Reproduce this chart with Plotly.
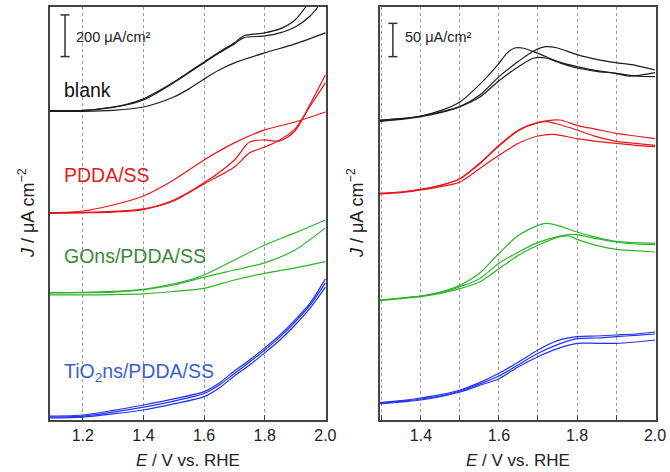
import plotly.graph_objects as go

# ---------------- data (current density incl. vertical offsets, µA cm^-2) ----------------
# Left panel
E_blank_a = [1.09,1.2,1.3,1.35,1.4,1.45,1.5,1.55,1.6,1.65,1.7,1.73,1.8,1.85,1.9,1.935]
J_blank_a = [1485,1486,1502,1517,1541,1579,1622,1670,1718,1766,1810,1843,1858,1877,1920,1982]
E_blank_b = [1.09,1.2,1.3,1.35,1.4,1.45,1.5,1.55,1.6,1.65,1.7,1.73,1.8,1.85,1.9,1.95,1.975]
J_blank_b = [1483,1485,1500,1514,1536,1574,1618,1666,1714,1762,1805,1834,1843,1858,1886,1939,1982]
E_blank_c = [1.09,1.2,1.3,1.4,1.5,1.55,1.6,1.65,1.7,1.8,1.9,2.0]
J_blank_c = [1481,1481,1486,1502,1550,1589,1637,1680,1714,1762,1805,1858]

E_pdda_a = [1.09,1.2,1.3,1.4,1.5,1.6,1.7,1.8,1.9,2.0]
J_pdda_a = [995,1003,1032,1075,1152,1248,1330,1392,1430,1478]
E_pdda_b = [1.09,1.2,1.3,1.4,1.5,1.6,1.7,1.75,1.8,1.85,1.9,1.95,2.0]
J_pdda_b = [994,996,1001,1013,1056,1138,1248,1334,1344,1339,1387,1517,1656]
J_pdda_c = [991,994,998,1010,1051,1133,1214,1282,1310,1344,1397,1507,1618]

E_gons = [1.09,1.2,1.3,1.4,1.5,1.6,1.7,1.8,1.9,2.0]
J_gons_a = [611,612,617,627,653,696,768,840,898,960]
J_gons_b = [610,611,614,626,648,686,720,754,816,922]
J_gons_c = [600,600,602,605,617,632,672,704,730,760]

E_tio2 = [1.09,1.2,1.3,1.4,1.5,1.6,1.65,1.7,1.75,1.8,1.85,1.9,1.95,2.0]
J_tio2_a = [19,24,46,72,101,136,178,235,288,346,408,480,562,677]
J_tio2_b = [14,19,38,62,91,127,168,223,278,336,398,470,552,658]
J_tio2_c = [10,14,29,48,77,112,154,211,264,322,384,456,538,638]

# Right panel
E_r_blank_a = [1.295,1.35,1.4,1.45,1.5,1.55,1.6,1.62,1.64,1.66,1.7,1.75,1.8,1.85,1.9,1.95,2.0]
J_r_blank_a = [450,452,456,464,477,503,535,550,558,558,550,538,530,524,520,516,515]
E_r_blank_b = [1.295,1.35,1.4,1.45,1.5,1.55,1.6,1.65,1.69,1.72,1.75,1.8,1.85,1.9,1.95,2.0]
J_r_blank_b = [449,452,456,462,470,487,515,538,554,560,558,548,541,536,532,525]
E_r_blank_c = [1.295,1.35,1.4,1.45,1.5,1.55,1.6,1.65,1.69,1.72,1.75,1.8,1.85,1.9,1.93,1.96,2.0]
J_r_blank_c = [448,451,455,461,470,484,509,530,543,543,537,528,523,520,516,517,521]

E_r_pdda_a = [1.295,1.35,1.4,1.45,1.5,1.55,1.6,1.65,1.7,1.722,1.75,1.8,1.85,1.9,1.95,2.0]
J_r_pdda_a = [340,342,346,352,362,385,412,435,446,447.5,444,435,425,418,415,412]
E_r_pdda_b = [1.295,1.35,1.4,1.45,1.5,1.55,1.6,1.65,1.7,1.756,1.8,1.85,1.9,1.95,2.0]
J_r_pdda_b = [340,342,346,352,362,384,411,434,446,450,442,436,430,426,422]
E_r_pdda_c = [1.295,1.35,1.4,1.45,1.5,1.55,1.6,1.65,1.7,1.74,1.8,1.85,1.9,1.95,2.0]
J_r_pdda_c = [339,341,345,350,357,377,397,415,426,428.5,422,418,415,412,410]

E_r_gons_a = [1.295,1.35,1.4,1.45,1.5,1.55,1.6,1.65,1.7,1.722,1.75,1.8,1.85,1.9,1.95,2.0]
J_r_gons_a = [180,183,186,192,202,220,250,277,292,295,292,282,274,268,266,265]
E_r_gons = [1.295,1.35,1.4,1.45,1.5,1.55,1.6,1.65,1.7,1.75,1.78,1.8,1.85,1.9,1.95,2.0]
J_r_gons_b = [180,183,186,191,200,212,235,252,266,275,278,278,272,267,264,263]
J_r_gons_c = [179,182,185,190,197,207,227,247,262,274,276,271,262,256,254,252]

E_r_tio2 = [1.295,1.35,1.4,1.45,1.5,1.55,1.6,1.65,1.7,1.75,1.8,1.85,1.9,1.95,2.0]
J_r_tio2_a = [26,29,33,38,45,56,70,87,105,119,125,126,127.5,129,132]
J_r_tio2_b = [25,28,31.5,36,43.5,54,66,83,100,113,122,123,125,127,129]
J_r_tio2_c = [24,27,30,35,42,52,62,80,95,107,115,115,115,117,120]

labels = ["blank", "PDDA/SS", "GOns/PDDA/SS", "TiO<sub>2</sub>ns/PDDA/SS"]
label_y = [1584, 1176, 787, 226]
label_colors = ["#111111", "#e01b1b", "#3a8a3a", "#3a5fd0"]

scale_left = 200      # µA cm^-2
scale_right = 50      # µA cm^-2

# ---------------- styles ----------------
C_BLACK = "#1c1c1c"
C_RED = "#e8161c"
C_GREEN = "#2cb52c"
C_BLUE = "#2233ee"
FONT = "Arial, Liberation Sans, sans-serif"

fig = go.Figure()

def add(x, y, color, xa="x", ya="y"):
    fig.add_trace(go.Scatter(x=x, y=y, mode="lines", xaxis=xa, yaxis=ya,
                             line=dict(color=color, width=1.2, shape="spline", smoothing=0.8),
                             showlegend=False, hoverinfo="skip"))

add(E_blank_a, J_blank_a, C_BLACK); add(E_blank_b, J_blank_b, C_BLACK); add(E_blank_c, J_blank_c, C_BLACK)
add(E_pdda_a, J_pdda_a, C_RED); add(E_pdda_b, J_pdda_b, C_RED); add(E_pdda_b, J_pdda_c, C_RED)
add(E_gons, J_gons_a, C_GREEN); add(E_gons, J_gons_b, C_GREEN); add(E_gons, J_gons_c, C_GREEN)
add(E_tio2, J_tio2_a, C_BLUE); add(E_tio2, J_tio2_b, C_BLUE); add(E_tio2, J_tio2_c, C_BLUE)

add(E_r_blank_a, J_r_blank_a, C_BLACK, "x2", "y2"); add(E_r_blank_b, J_r_blank_b, C_BLACK, "x2", "y2")
add(E_r_blank_c, J_r_blank_c, C_BLACK, "x2", "y2")
add(E_r_pdda_a, J_r_pdda_a, C_RED, "x2", "y2"); add(E_r_pdda_b, J_r_pdda_b, C_RED, "x2", "y2")
add(E_r_pdda_c, J_r_pdda_c, C_RED, "x2", "y2")
add(E_r_gons_a, J_r_gons_a, C_GREEN, "x2", "y2"); add(E_r_gons, J_r_gons_b, C_GREEN, "x2", "y2")
add(E_r_gons, J_r_gons_c, C_GREEN, "x2", "y2")
add(E_r_tio2, J_r_tio2_a, C_BLUE, "x2", "y2"); add(E_r_tio2, J_r_tio2_b, C_BLUE, "x2", "y2")
add(E_r_tio2, J_r_tio2_c, C_BLUE, "x2", "y2")

ydom = [1 - 420/472, 1 - 7/472]
axis_common = dict(showline=True, linecolor="#444", linewidth=1.5, mirror=True,
                   ticks="inside", ticklen=5, tickcolor="#444", tickwidth=1.2,
                   showgrid=True, gridcolor="#9a9a9a", griddash="dot", gridwidth=1,
                   zeroline=False, tickfont=dict(family=FONT, size=16, color="#222"),
                   tickformat=".1f")
fig.update_layout(
    width=670, height=472, autosize=False, margin=dict(l=0, r=0, t=0, b=0, pad=0, autoexpand=False),
    paper_bgcolor="white", plot_bgcolor="white",
    xaxis=dict(domain=[50/670, 326/670], range=[1.092, 2.002], dtick=0.2, tick0=0,
               anchor="y", **axis_common),
    xaxis2=dict(domain=[380/670, 656/670], range=[1.295, 2.0025], dtick=0.2, tick0=0,
                anchor="y2",
                minor=dict(dtick=0.1, tick0=0, ticks="inside", ticklen=5, tickcolor="#444",
                           showgrid=True, gridcolor="#9a9a9a", griddash="dot", gridwidth=1),
                **axis_common),
    yaxis=dict(domain=ydom, range=[0, 1982], showticklabels=False, ticks="", showgrid=False,
               showline=True, linecolor="#444", linewidth=1.5, mirror=True, zeroline=False,
               anchor="x"),
    yaxis2=dict(domain=ydom, range=[0, 619.5], showticklabels=False, ticks="", showgrid=False,
                showline=True, linecolor="#444", linewidth=1.5, mirror=True, zeroline=False,
                anchor="x2"),
)

ann = []
for t, yv, c in zip(labels, label_y, label_colors):
    ann.append(dict(x=1.133, y=yv, xref="x", yref="y", text=t, showarrow=False,
                    xanchor="left", yanchor="middle", font=dict(family=FONT, size=19.5, color=c)))

xt = "<i>E</i> / V vs. RHE"
ann.append(dict(x=188/670, y=1 - 460/472, xref="paper", yref="paper", text=xt, showarrow=False,
                xanchor="center", yanchor="middle", font=dict(family=FONT, size=17, color="#222")))
ann.append(dict(x=518/670, y=1 - 460/472, xref="paper", yref="paper", text=xt, showarrow=False,
                xanchor="center", yanchor="middle", font=dict(family=FONT, size=17, color="#222")))
yt = "<i>J</i> / μA cm<sup>−2</sup>"
for xp in (26/670, 355/670):
    ann.append(dict(x=xp, y=1 - 213/472, xref="paper", yref="paper", text=yt, showarrow=False,
                    textangle=-90, xanchor="center", yanchor="middle",
                    font=dict(family=FONT, size=18, color="#222")))

# scale bars
shapes = []
def scalebar(xv, ytop, val, half, xr, yr):
    ybot = ytop - val
    shapes.append(dict(type="line", xref=xr, yref=yr, x0=xv, x1=xv, y0=ybot, y1=ytop,
                       line=dict(color="#333", width=1.5)))
    for yy in (ybot, ytop):
        shapes.append(dict(type="line", xref=xr, yref=yr, x0=xv - half, x1=xv + half, y0=yy, y1=yy,
                           line=dict(color="#333", width=1.5)))

scalebar(1.1416, 1944, scale_left, 0.0148, "x", "y")
scalebar(1.328, 595, scale_right, 0.0115, "x2", "y2")
ann.append(dict(x=1.171, y=1840, xref="x", yref="y", text="200 μA/cm²", showarrow=False,
                xanchor="left", yanchor="middle", font=dict(family=FONT, size=14.5, color="#222")))
ann.append(dict(x=1.353, y=575, xref="x2", yref="y2", text="50 μA/cm²", showarrow=False,
                xanchor="left", yanchor="middle", font=dict(family=FONT, size=14.5, color="#222")))

fig.update_layout(annotations=ann, shapes=shapes)
fig.write_html("out.html", config={"responsive": False})
